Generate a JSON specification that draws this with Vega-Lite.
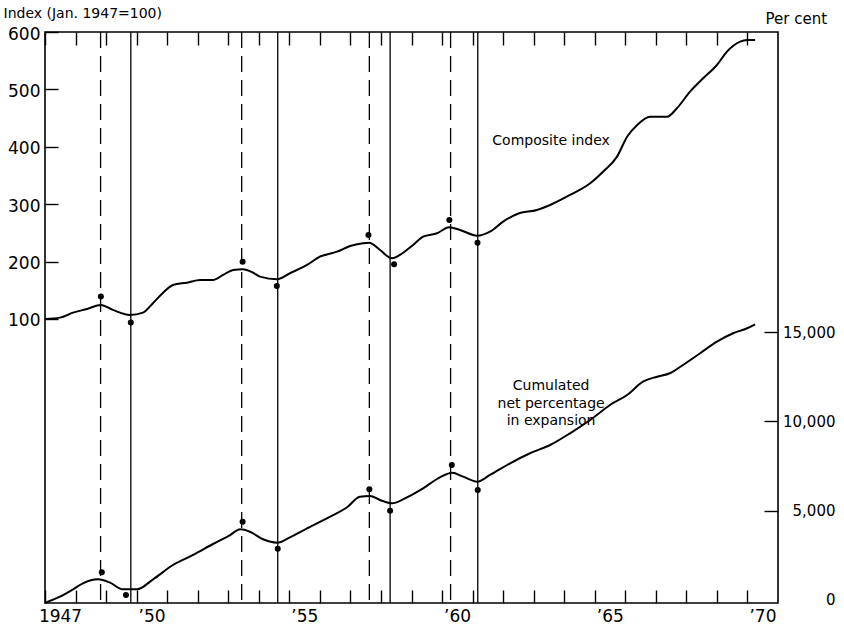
{
  "$schema": "https://vega.github.io/schema/vega-lite/v6.json",
  "width": 733,
  "height": 571,
  "autosize": {"type": "none"},
  "padding": {"left": 45, "top": 32, "right": 66, "bottom": 21},
  "background": "white",
  "config": {
    "font": "DejaVu Sans",
    "view": {"stroke": "black", "strokeWidth": 1.6},
    "axis": {
      "grid": false,
      "domain": false,
      "tickColor": "black",
      "tickWidth": 1.4,
      "labelColor": "black",
      "titleColor": "black",
      "titleFontWeight": "normal"
    }
  },
  "datasets": {
    "composite": [
      {"year": 1947.00, "index": 100}, {"year": 1947.49, "index": 102.3}, {"year": 1947.92, "index": 111},
      {"year": 1948.38, "index": 117.4}, {"year": 1948.83, "index": 124.4}, {"year": 1949.22, "index": 115.7},
      {"year": 1949.78, "index": 107}, {"year": 1950.21, "index": 111}, {"year": 1950.54, "index": 127.9},
      {"year": 1950.86, "index": 145.3}, {"year": 1951.19, "index": 159.2}, {"year": 1951.65, "index": 163.2},
      {"year": 1952.08, "index": 167.9}, {"year": 1952.50, "index": 167.9}, {"year": 1952.83, "index": 176.7},
      {"year": 1953.16, "index": 185.4}, {"year": 1953.48, "index": 186.6}, {"year": 1953.81, "index": 180.7},
      {"year": 1954.04, "index": 173.7}, {"year": 1954.60, "index": 169.2}, {"year": 1955.02, "index": 179.6},
      {"year": 1955.58, "index": 194.1}, {"year": 1956.00, "index": 208.5}, {"year": 1956.56, "index": 217.2},
      {"year": 1956.99, "index": 227.2}, {"year": 1957.41, "index": 231.9}, {"year": 1957.61, "index": 232.9},
      {"year": 1957.97, "index": 220.2}, {"year": 1958.36, "index": 205.7}, {"year": 1958.62, "index": 211.5},
      {"year": 1959.05, "index": 228.9}, {"year": 1959.38, "index": 243.4}, {"year": 1959.84, "index": 249.3},
      {"year": 1960.23, "index": 259.8}, {"year": 1960.59, "index": 255.1}, {"year": 1961.15, "index": 245.1},
      {"year": 1961.57, "index": 252.1}, {"year": 1962.00, "index": 269.5}, {"year": 1962.46, "index": 282.9},
      {"year": 1963.11, "index": 289.9}, {"year": 1963.54, "index": 298.6}, {"year": 1964.19, "index": 316},
      {"year": 1964.85, "index": 336.4}, {"year": 1965.27, "index": 356.6}, {"year": 1965.73, "index": 382.8},
      {"year": 1966.06, "index": 417.6}, {"year": 1966.39, "index": 438}, {"year": 1966.81, "index": 452.4},
      {"year": 1967.37, "index": 452.4}, {"year": 1967.69, "index": 467.1}, {"year": 1968.12, "index": 496},
      {"year": 1968.55, "index": 519.3}, {"year": 1969.00, "index": 542.5}, {"year": 1969.33, "index": 565.7},
      {"year": 1969.76, "index": 583.1}, {"year": 1969.99, "index": 586}, {"year": 1970.25, "index": 586}
    ],
    "cumulated": [
      {"year": 1947.00, "pct": -160}, {"year": 1947.49, "pct": 185}, {"year": 1947.92, "pct": 599},
      {"year": 1948.24, "pct": 935}, {"year": 1948.74, "pct": 1159}, {"year": 1949.13, "pct": 969},
      {"year": 1949.55, "pct": 599}, {"year": 1950.01, "pct": 599}, {"year": 1950.54, "pct": 1159},
      {"year": 1951.19, "pct": 1960}, {"year": 1951.85, "pct": 2520}, {"year": 1952.50, "pct": 3135},
      {"year": 1953.06, "pct": 3639}, {"year": 1953.39, "pct": 3959}, {"year": 1953.71, "pct": 3824},
      {"year": 1954.14, "pct": 3399}, {"year": 1954.60, "pct": 3209}, {"year": 1955.02, "pct": 3511},
      {"year": 1955.58, "pct": 4014}, {"year": 1956.23, "pct": 4574}, {"year": 1956.89, "pct": 5190},
      {"year": 1957.31, "pct": 5784}, {"year": 1957.64, "pct": 5823}, {"year": 1957.97, "pct": 5599},
      {"year": 1958.36, "pct": 5414}, {"year": 1958.85, "pct": 5750}, {"year": 1959.38, "pct": 6254},
      {"year": 1959.93, "pct": 6870}, {"year": 1960.33, "pct": 7127}, {"year": 1960.69, "pct": 6904},
      {"year": 1961.15, "pct": 6624}, {"year": 1961.57, "pct": 6999}, {"year": 1962.23, "pct": 7654},
      {"year": 1962.88, "pct": 8214}, {"year": 1963.54, "pct": 8678}, {"year": 1964.19, "pct": 9334},
      {"year": 1964.85, "pct": 10079}, {"year": 1965.50, "pct": 10918}, {"year": 1966.06, "pct": 11479},
      {"year": 1966.58, "pct": 12223}, {"year": 1967.04, "pct": 12503}, {"year": 1967.46, "pct": 12693},
      {"year": 1967.89, "pct": 13158}, {"year": 1968.45, "pct": 13813}, {"year": 1969.00, "pct": 14462},
      {"year": 1969.53, "pct": 14933}, {"year": 1969.99, "pct": 15213}, {"year": 1970.25, "pct": 15437}
    ],
    "turningPoints": [
      {"year": 1948.82, "turn": "peak"}, {"year": 1949.81, "turn": "trough"},
      {"year": 1953.44, "turn": "peak"}, {"year": 1954.62, "turn": "trough"},
      {"year": 1957.62, "turn": "peak"}, {"year": 1958.30, "turn": "trough"},
      {"year": 1960.28, "turn": "peak"}, {"year": 1961.17, "turn": "trough"}
    ],
    "compositeTurns": [
      {"year": 1948.83, "index": 138.9}, {"year": 1949.81, "index": 93.6},
      {"year": 1953.47, "index": 199.8}, {"year": 1954.59, "index": 157.5},
      {"year": 1957.59, "index": 246.3}, {"year": 1958.43, "index": 195.3},
      {"year": 1960.24, "index": 272.5}, {"year": 1961.16, "index": 232.9}
    ],
    "cumulatedTurns": [
      {"year": 1948.86, "pct": 1551}, {"year": 1949.65, "pct": 280},
      {"year": 1953.47, "pct": 4384}, {"year": 1954.62, "pct": 2872},
      {"year": 1957.62, "pct": 6198}, {"year": 1958.30, "pct": 5000},
      {"year": 1960.32, "pct": 7559}, {"year": 1961.17, "pct": 6159}
    ],
    "compositeNote": [{"year": 1963.57, "index": 410, "note": "Composite index"}],
    "cumulatedNote": [{"year": 1963.57, "pct": 11954, "note": "Cumulated\nnet percentage\nin expansion"}]
  },
  "resolve": {"scale": {"y": "independent"}, "axis": {"x": "independent"}},
  "layer": [
    {
      "encoding": {
        "x": {
          "field": "year",
          "type": "quantitative",
          "scale": {"domain": [1947, 1971], "nice": false, "zero": false},
          "axis": {
            "orient": "bottom",
            "title": null,
            "values": [1947, 1948, 1949, 1950, 1951, 1952, 1953, 1954, 1955, 1956, 1957, 1958, 1959, 1960, 1961, 1962, 1963, 1964, 1965, 1966, 1967, 1968, 1969, 1970],
            "format": "d",
            "labelExpr": "datum.value == 1947 ? '1947' : (datum.value % 5 == 0 ? '’' + substring(datum.label, 2) : '')",
            "tickSize": -13,
            "labelPadding": 18,
            "labelOffset": 15,
            "labelFontSize": 17,
            "labelFlush": false,
            "labelOverlap": false
          }
        }
      },
      "layer": [
        {
          "data": {"name": "turningPoints"},
          "mark": {"type": "rule", "color": "black", "strokeWidth": 1.3},
          "encoding": {
            "y": {
              "datum": 600,
              "type": "quantitative",
              "scale": {"domain": [-395, 600], "nice": false, "zero": false},
              "axis": {
                "orient": "left",
                "values": [100, 200, 300, 400, 500, 600],
                "format": "d",
                "tickSize": -13,
                "labelPadding": 18,
                "labelOffset": 2,
                "labelFontSize": 17,
                "title": "Index (Jan. 1947=100)",
                "titleAngle": 0,
                "titleAlign": "left",
                "titleBaseline": "middle",
                "titleX": -42,
                "titleY": -19,
                "titleFontSize": 14
              }
            },
            "y2": {"datum": -395},
            "strokeDash": {
              "field": "turn",
              "type": "nominal",
              "scale": {"domain": ["peak", "trough"], "range": [[16, 8], [1, 0]]},
              "legend": null
            }
          }
        },
        {
          "data": {"name": "composite"},
          "mark": {"type": "line", "color": "black", "strokeWidth": 2, "interpolate": "monotone"},
          "encoding": {
            "y": {
              "field": "index",
              "type": "quantitative",
              "scale": {"domain": [-395, 600], "nice": false, "zero": false},
              "axis": {
                "orient": "left",
                "values": [100, 200, 300, 400, 500, 600],
                "format": "d",
                "tickSize": -13,
                "labelPadding": 18,
                "labelOffset": 2,
                "labelFontSize": 17,
                "title": "Index (Jan. 1947=100)",
                "titleAngle": 0,
                "titleAlign": "left",
                "titleBaseline": "middle",
                "titleX": -42,
                "titleY": -19,
                "titleFontSize": 14
              }
            }
          }
        },
        {
          "data": {"name": "compositeTurns"},
          "mark": {"type": "circle", "color": "black", "opacity": 1, "size": 36},
          "encoding": {
            "y": {
              "field": "index",
              "type": "quantitative",
              "scale": {"domain": [-395, 600], "nice": false, "zero": false},
              "axis": {
                "orient": "left",
                "values": [100, 200, 300, 400, 500, 600],
                "format": "d",
                "tickSize": -13,
                "labelPadding": 18,
                "labelOffset": 2,
                "labelFontSize": 17,
                "title": "Index (Jan. 1947=100)",
                "titleAngle": 0,
                "titleAlign": "left",
                "titleBaseline": "middle",
                "titleX": -42,
                "titleY": -19,
                "titleFontSize": 14
              }
            }
          }
        },
        {
          "data": {"name": "compositeNote"},
          "mark": {"type": "text", "align": "center", "baseline": "middle", "fontSize": 14, "color": "black"},
          "encoding": {
            "y": {
              "field": "index",
              "type": "quantitative",
              "scale": {"domain": [-395, 600], "nice": false, "zero": false},
              "axis": {
                "orient": "left",
                "values": [100, 200, 300, 400, 500, 600],
                "format": "d",
                "tickSize": -13,
                "labelPadding": 18,
                "labelOffset": 2,
                "labelFontSize": 17,
                "title": "Index (Jan. 1947=100)",
                "titleAngle": 0,
                "titleAlign": "left",
                "titleBaseline": "middle",
                "titleX": -42,
                "titleY": -19,
                "titleFontSize": 14
              }
            },
            "text": {"field": "note"}
          }
        }
      ]
    },
    {
      "encoding": {
        "x": {
          "field": "year",
          "type": "quantitative",
          "scale": {"domain": [1947, 1971], "nice": false, "zero": false},
          "axis": {
            "orient": "top",
            "title": null,
            "values": [1947, 1948, 1949, 1950, 1951, 1952, 1953, 1954, 1955, 1956, 1957, 1958, 1959, 1960, 1961, 1962, 1963, 1964, 1965, 1966, 1967, 1968, 1969, 1970],
            "tickSize": -13,
            "labels": false
          }
        }
      },
      "layer": [
        {
          "data": {"name": "cumulated"},
          "mark": {"type": "line", "color": "black", "strokeWidth": 2, "interpolate": "monotone"},
          "encoding": {
            "y": {
              "field": "pct",
              "type": "quantitative",
              "scale": {"domain": [-168, 31800], "nice": false, "zero": false},
              "axis": {
                "orient": "right",
                "values": [0, 5000, 10000, 15000],
                "format": ",d",
                "tickSize": -14,
                "tickOpacity": {"condition": {"test": "datum.value == 0", "value": 0}, "value": 1},
                "labelPadding": 71,
                "labelAlign": "right",
                "labelFontSize": 15,
                "title": "Per cent",
                "titleAngle": 0,
                "titleAlign": "left",
                "titleBaseline": "middle",
                "titleX": -13,
                "titleY": -14,
                "titleFontSize": 15
              }
            }
          }
        },
        {
          "data": {"name": "cumulatedTurns"},
          "mark": {"type": "circle", "color": "black", "opacity": 1, "size": 36},
          "encoding": {
            "y": {
              "field": "pct",
              "type": "quantitative",
              "scale": {"domain": [-168, 31800], "nice": false, "zero": false},
              "axis": {
                "orient": "right",
                "values": [0, 5000, 10000, 15000],
                "format": ",d",
                "tickSize": -14,
                "tickOpacity": {"condition": {"test": "datum.value == 0", "value": 0}, "value": 1},
                "labelPadding": 71,
                "labelAlign": "right",
                "labelFontSize": 15,
                "title": "Per cent",
                "titleAngle": 0,
                "titleAlign": "left",
                "titleBaseline": "middle",
                "titleX": -13,
                "titleY": -14,
                "titleFontSize": 15
              }
            }
          }
        },
        {
          "data": {"name": "cumulatedNote"},
          "mark": {"type": "text", "align": "center", "baseline": "middle", "fontSize": 14, "lineHeight": 17.5, "lineBreak": "\n", "color": "black"},
          "encoding": {
            "y": {
              "field": "pct",
              "type": "quantitative",
              "scale": {"domain": [-168, 31800], "nice": false, "zero": false},
              "axis": {
                "orient": "right",
                "values": [0, 5000, 10000, 15000],
                "format": ",d",
                "tickSize": -14,
                "tickOpacity": {"condition": {"test": "datum.value == 0", "value": 0}, "value": 1},
                "labelPadding": 71,
                "labelAlign": "right",
                "labelFontSize": 15,
                "title": "Per cent",
                "titleAngle": 0,
                "titleAlign": "left",
                "titleBaseline": "middle",
                "titleX": -13,
                "titleY": -14,
                "titleFontSize": 15
              }
            },
            "text": {"field": "note"}
          }
        }
      ]
    }
  ]
}
